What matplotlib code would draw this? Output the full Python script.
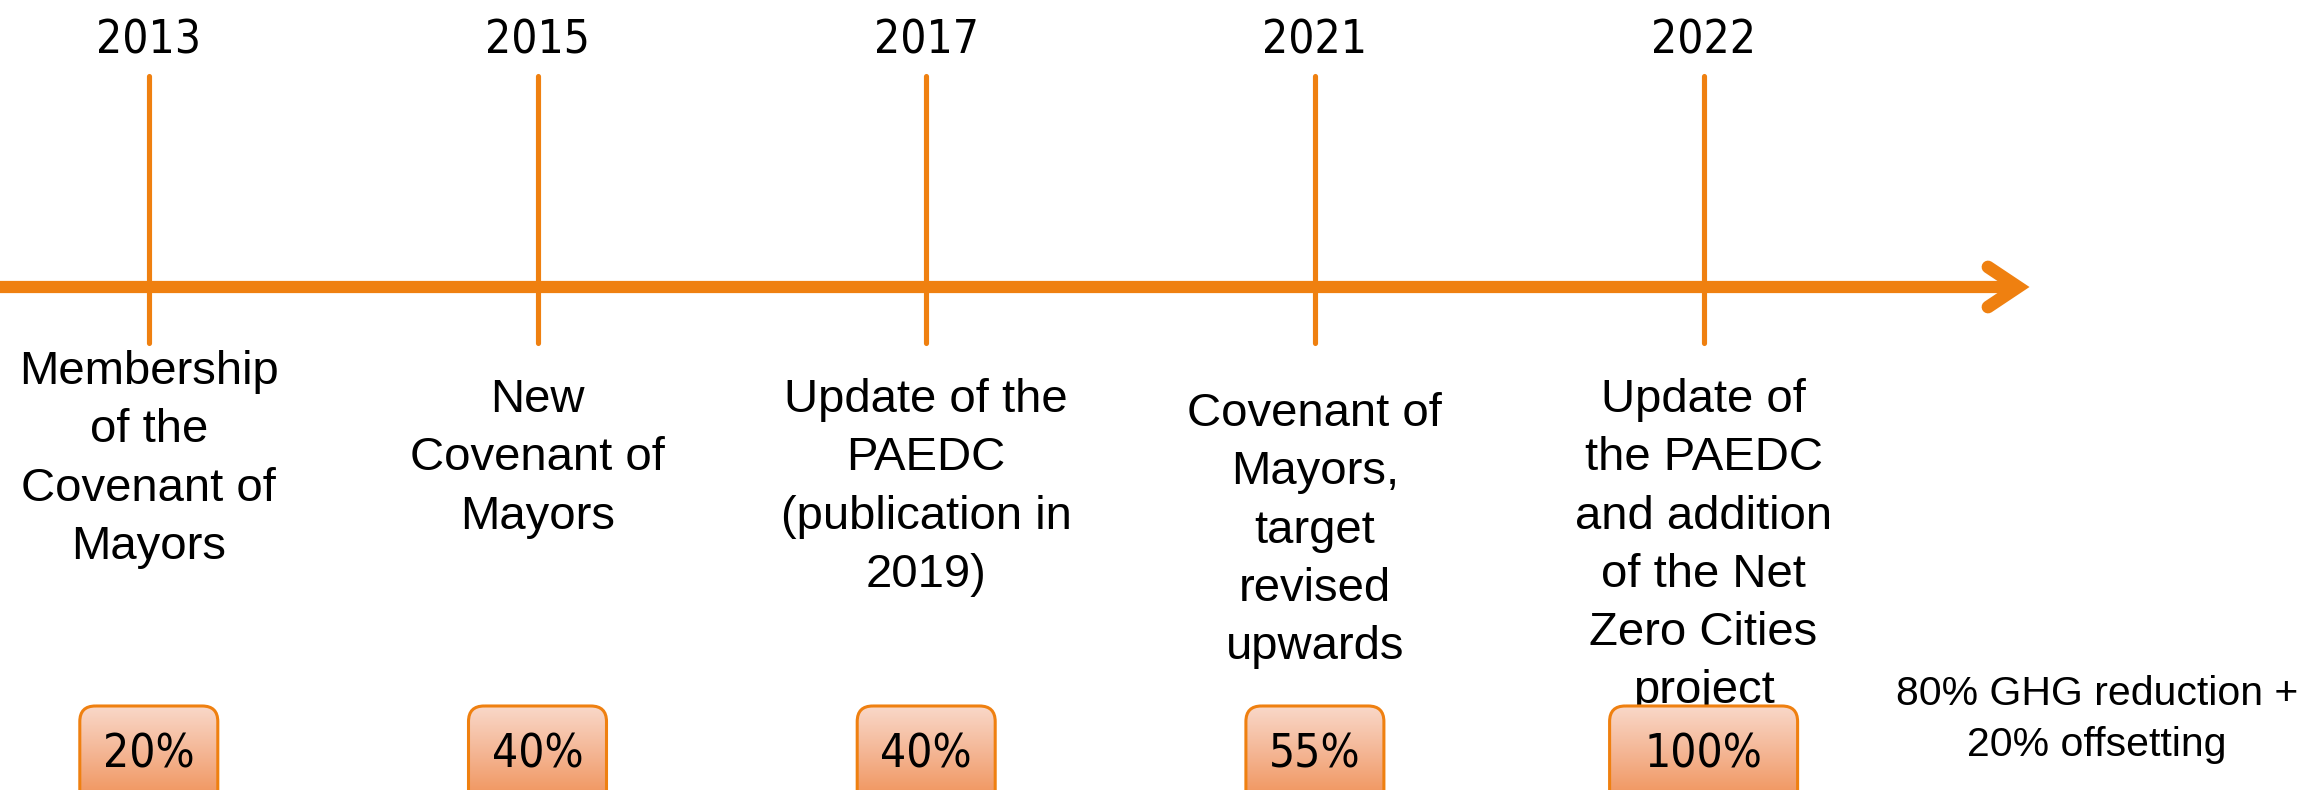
# Timeline of the climate commitments (Covenant of Mayors / PAEDC)
import matplotlib
matplotlib.use("Agg")
import matplotlib.pyplot as plt
from matplotlib.patches import FancyBboxPatch
from matplotlib.colors import LinearSegmentedColormap
import numpy as np

# data
years = ["2013", "2015", "2017", "2021", "2022"]
targets = [20, 40, 40, 55, 100]
events = [
    "Membership\nof the\nCovenant of\nMayors",
    "New\nCovenant of\nMayors",
    "Update of the\nPAEDC\n(publication in\n2019)",
    "Covenant of\nMayors,\ntarget\nrevised\nupwards",
    "Update of\nthe PAEDC\nand addition\nof the Net\nZero Cities\nproject",
]
final_note = "80% GHG reduction +\n20% offsetting"

# layout (pixel based on y, event index on x)
PX = 388.7          # pixels per event step
X0 = 148.8          # pixel position of first event
W, H = 2310, 790
LINE_Y = 287
TICK_TOP, TICK_BOT = 76, 343
text_top = [350, 378, 378, 392, 378]
box_w_px = [138, 138, 138, 138, 188]
BOX_TOP = 706

ORANGE = "#EF8010"
desc_font = "Liberation Sans"
num_font = "DejaVu Sans"

fig = plt.figure(figsize=(W / 100, H / 100), dpi=100)
ax = fig.add_axes([0, 0, 1, 1])
xmin, xmax = -X0 / PX, (W - X0) / PX
ax.set_xlim(xmin, xmax)
ax.set_ylim(H, 0)
ax.axis("off")

def px(v):
    return (v - X0) / PX

idx = np.arange(len(years))

# main arrow
ax.plot([xmin, px(2016)], [LINE_Y, LINE_Y], color=ORANGE, lw=8.8,
        solid_capstyle="butt", zorder=2)
ax.plot([px(1988), px(2018), px(1988)], [267, LINE_Y, 307], color=ORANGE,
        lw=9.2, solid_capstyle="round", solid_joinstyle="miter", zorder=2)

# event ticks
ax.vlines(idx, TICK_TOP, TICK_BOT, color=ORANGE, lw=3.7, capstyle="round",
          zorder=3)

cmap = LinearSegmentedColormap.from_list("peach", ["#F9D8C9", "#F4B593", "#F09258"])
grad = np.linspace(0, 1, 256).reshape(-1, 1)

for i, (yr, desc, tg) in enumerate(zip(years, events, targets)):
    ax.text(i, 54, yr, ha="center", va="baseline", fontsize=33,
            family=num_font, fontstretch="condensed")
    ax.text(i, text_top[i], desc, ha="center", va="top", fontsize=34,
            family=desc_font, linespacing=1.42)

    bw = box_w_px[i] / PX
    box = FancyBboxPatch((i - bw / 2, BOX_TOP), bw, 110,
                         boxstyle="round,pad=0,rounding_size=0.04",
                         mutation_aspect=PX, facecolor="none",
                         edgecolor=ORANGE, lw=2.2, zorder=5)
    ax.add_patch(box)
    im = ax.imshow(grad, cmap=cmap, aspect="auto", zorder=4,
                   extent=(i - bw / 2, i + bw / 2, BOX_TOP + 95, BOX_TOP))
    im.set_clip_path(box)
    ax.text(i, 768, f"{tg}%", ha="center", va="baseline", fontsize=33,
            family=num_font, fontstretch="condensed", zorder=6)

ax.text(px(2097), 675, final_note, ha="center", va="top", fontsize=29.5,
        family=desc_font, linespacing=1.42)

ax.set_xlim(xmin, xmax)
ax.set_ylim(H, 0)
fig.savefig("out.png", dpi=100)
